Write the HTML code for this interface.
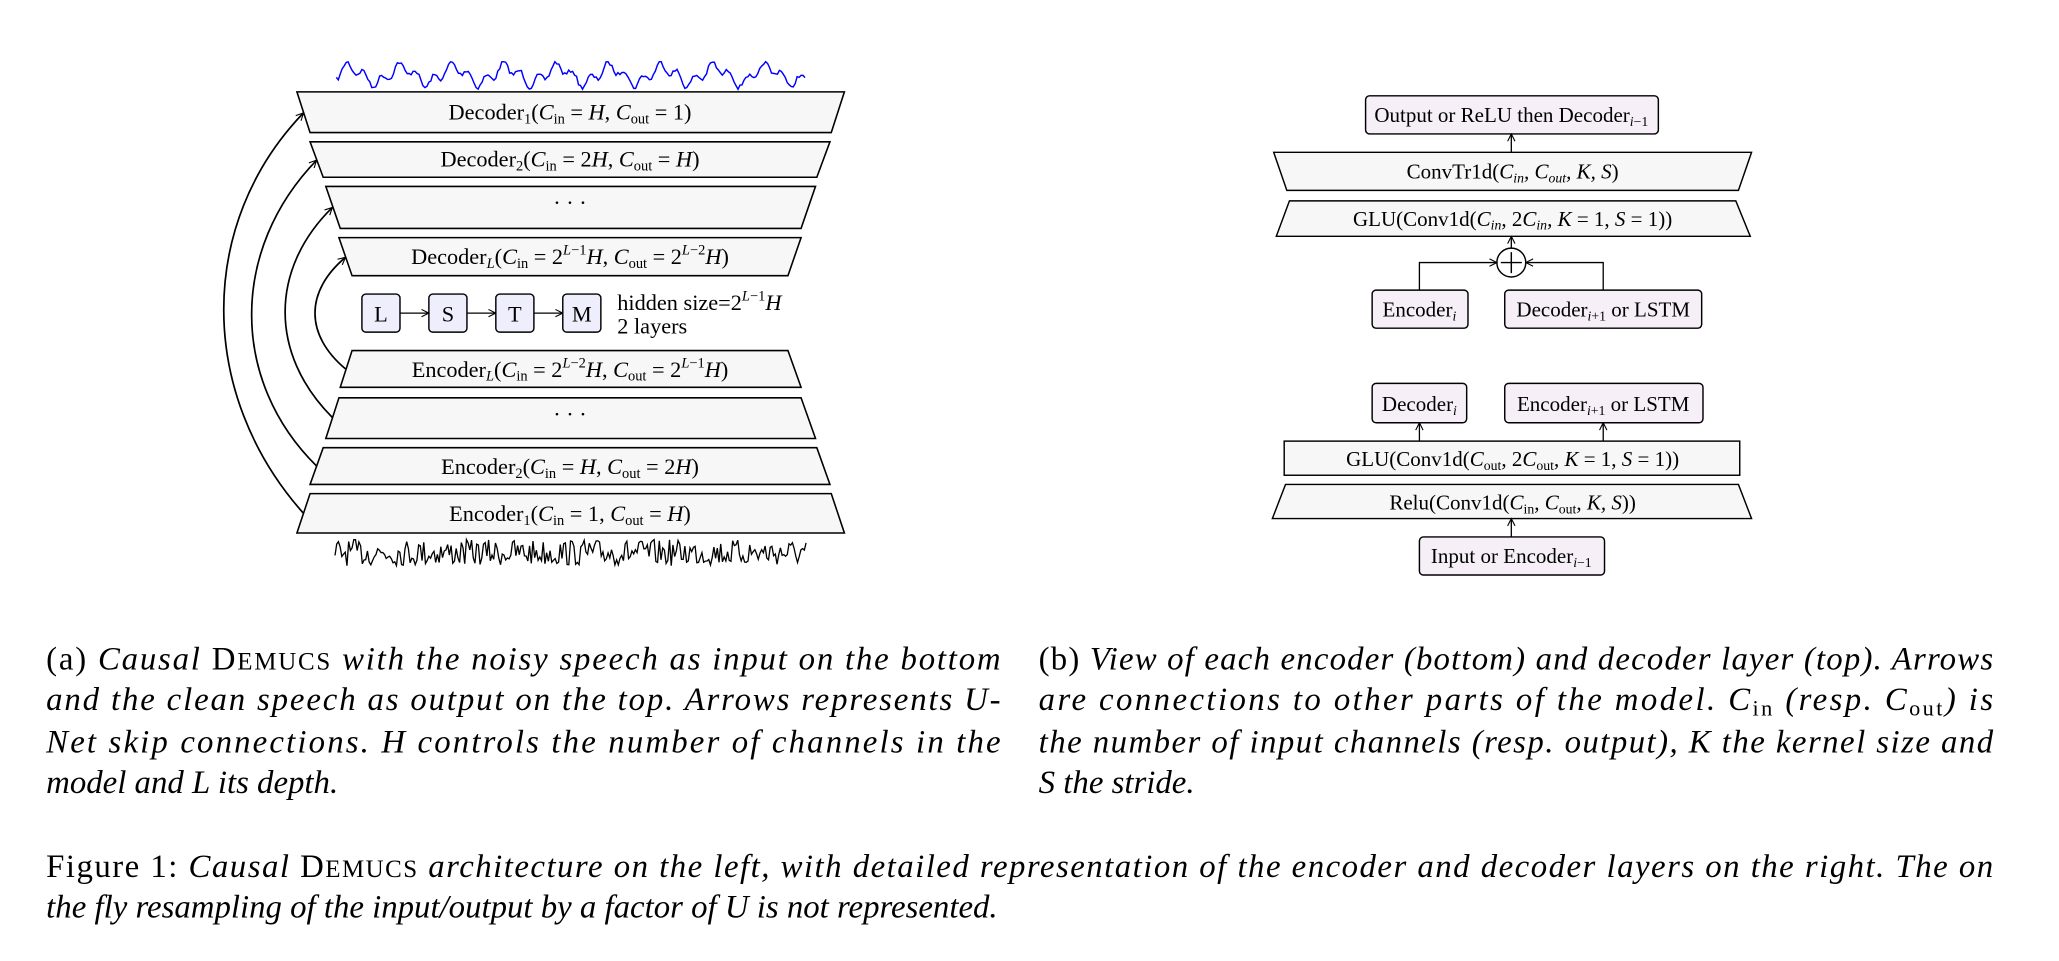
<!DOCTYPE html>
<html><head><meta charset="utf-8"><style>
html,body{margin:0;padding:0;background:#fff;}
svg{display:block;}
text{font-family:"Liberation Serif",serif;fill:#000;}
.d{font-size:17px;}
.r{font-size:16px;}
.c{font-size:25px;font-style:italic;}
</style></head><body>
<svg id="s" width="2059" height="961" viewBox="0 0 1568 732" xmlns="http://www.w3.org/2000/svg">
<defs>
<marker id="ah" viewBox="0 0 10 10" refX="9" refY="5" markerWidth="7" markerHeight="7" orient="auto" markerUnits="userSpaceOnUse">
<path d="M1,1 L9,5 L1,9" fill="none" stroke="#000" stroke-width="1.2"/></marker>
</defs>
<g stroke="#000" stroke-width="1.2" fill="#f7f7f7">
<polygon points="226,70 643,70 633,101 236,101"/>
<polygon points="236,108 632,108 622,135 246,135"/>
<polygon points="248,142 621,142 610,174 259,174"/>
<polygon points="258,181 610,181 600,210 268,210"/>
<polygon points="268,267 600,267 610,295 259,295"/>
<polygon points="258,303 610,303 621,334 248,334"/>
<polygon points="246,341 622,341 632,369 236,369"/>
<polygon points="236,376 633,376 643,406 226,406"/>
</g>
<g class="d" text-anchor="middle">
<text x="434" y="91">Decoder<tspan font-size="11" dy="3">1</tspan><tspan dy="-3">(</tspan><tspan font-style="italic">C</tspan><tspan font-size="11" dy="3">in</tspan><tspan dy="-3"> = </tspan><tspan font-style="italic">H</tspan>, <tspan font-style="italic">C</tspan><tspan font-size="11" dy="3">out</tspan><tspan dy="-3"> = 1)</tspan></text>
<text x="434" y="127">Decoder<tspan font-size="11" dy="3">2</tspan><tspan dy="-3">(</tspan><tspan font-style="italic">C</tspan><tspan font-size="11" dy="3">in</tspan><tspan dy="-3"> = 2</tspan><tspan font-style="italic">H</tspan>, <tspan font-style="italic">C</tspan><tspan font-size="11" dy="3">out</tspan><tspan dy="-3"> = </tspan><tspan font-style="italic">H</tspan>)</text>
<text x="434" y="160">· · ·</text>
<text x="434" y="201">Decoder<tspan font-size="11" dy="3" font-style="italic">L</tspan><tspan dy="-3">(</tspan><tspan font-style="italic">C</tspan><tspan font-size="11" dy="3">in</tspan><tspan dy="-3"> = 2</tspan><tspan font-size="11" dy="-7" font-style="italic">L</tspan><tspan font-size="11">−1</tspan><tspan dy="7" font-style="italic">H</tspan>, <tspan font-style="italic">C</tspan><tspan font-size="11" dy="3">out</tspan><tspan dy="-3"> = 2</tspan><tspan font-size="11" dy="-7" font-style="italic">L</tspan><tspan font-size="11">−2</tspan><tspan dy="7" font-style="italic">H</tspan>)</text>
<text x="434" y="287">Encoder<tspan font-size="11" dy="3" font-style="italic">L</tspan><tspan dy="-3">(</tspan><tspan font-style="italic">C</tspan><tspan font-size="11" dy="3">in</tspan><tspan dy="-3"> = 2</tspan><tspan font-size="11" dy="-7" font-style="italic">L</tspan><tspan font-size="11">−2</tspan><tspan dy="7" font-style="italic">H</tspan>, <tspan font-style="italic">C</tspan><tspan font-size="11" dy="3">out</tspan><tspan dy="-3"> = 2</tspan><tspan font-size="11" dy="-7" font-style="italic">L</tspan><tspan font-size="11">−1</tspan><tspan dy="7" font-style="italic">H</tspan>)</text>
<text x="434" y="321">· · ·</text>
<text x="434" y="361">Encoder<tspan font-size="11" dy="3">2</tspan><tspan dy="-3">(</tspan><tspan font-style="italic">C</tspan><tspan font-size="11" dy="3">in</tspan><tspan dy="-3"> = </tspan><tspan font-style="italic">H</tspan>, <tspan font-style="italic">C</tspan><tspan font-size="11" dy="3">out</tspan><tspan dy="-3"> = 2</tspan><tspan font-style="italic">H</tspan>)</text>
<text x="434" y="397">Encoder<tspan font-size="11" dy="3">1</tspan><tspan dy="-3">(</tspan><tspan font-style="italic">C</tspan><tspan font-size="11" dy="3">in</tspan><tspan dy="-3"> = 1, </tspan><tspan font-style="italic">C</tspan><tspan font-size="11" dy="3">out</tspan><tspan dy="-3"> = </tspan><tspan font-style="italic">H</tspan>)</text>
</g>
<g fill="none" stroke="#000" stroke-width="1.3" marker-end="url(#ah)">
<path d="M231,391 C150,300 150,170 231,86"/>
<path d="M241,355 C175,290 175,190 241,122"/>
<path d="M253,318 C205,270 205,205 253,158"/>
<path d="M263,281 C232,255 232,222 263,196"/>
</g>
<g stroke="#000" stroke-width="1.1" fill="#eeeefc">
<rect x="275.5" y="224" width="29" height="29" rx="3"/>
<rect x="326.5" y="224" width="29" height="29" rx="3"/>
<rect x="377.5" y="224" width="29" height="29" rx="3"/>
<rect x="428.5" y="224" width="29" height="29" rx="3"/>
</g>
<g stroke="#000" stroke-width="1" marker-end="url(#ah)">
<line x1="304.5" y1="238.5" x2="326.5" y2="238.5"/>
<line x1="355.5" y1="238.5" x2="377.5" y2="238.5"/>
<line x1="406.5" y1="238.5" x2="428.5" y2="238.5"/>
</g>
<g class="d" text-anchor="middle">
<text x="290" y="245">L</text><text x="341" y="245">S</text><text x="392" y="245">T</text><text x="443" y="245">M</text>
</g>
<text class="d" x="470" y="236">hidden size=2<tspan font-size="11" dy="-7" font-style="italic">L</tspan><tspan font-size="11">−1</tspan><tspan dy="7" font-style="italic">H</tspan></text>
<text class="d" x="470" y="254">2 layers</text>
<path id="wt" fill="none" stroke="#0000ff" stroke-width="1.1"/>
<path id="wb" fill="none" stroke="#000" stroke-width="1"/>

<g stroke="#000" stroke-width="1.1" fill="#f7f7f7">
<polygon points="970,116 1334,116 1324,145 980,145"/>
<polygon points="982,153 1322,153 1333,180 972,180"/>
<rect x="978" y="336" width="347" height="26"/>
<polygon points="979,369 1324,369 1334,395 969,395"/>
</g>
<g stroke="#000" stroke-width="1.1" fill="#f6eff8">
<rect x="1040" y="73" width="223" height="29" rx="3"/>
<rect x="1045" y="221" width="73" height="29" rx="3"/>
<rect x="1146" y="221" width="150" height="29" rx="3"/>
<rect x="1045" y="292" width="72" height="30" rx="3"/>
<rect x="1146" y="292" width="151" height="30" rx="3"/>
<rect x="1081" y="409" width="141" height="29" rx="3"/>
</g>
<circle cx="1151" cy="200" r="11" fill="#fff" stroke="#000" stroke-width="1.1"/>
<path d="M1151,192 V208 M1143,200 H1159" stroke="#000" stroke-width="1.1"/>
<g fill="none" stroke="#000" stroke-width="1" marker-end="url(#ah)">
<line x1="1151" y1="116" x2="1151" y2="102"/>
<line x1="1151" y1="189" x2="1151" y2="180"/>
<path d="M1081,221 V200 H1140"/>
<path d="M1221,221 V200 H1162"/>
<line x1="1081" y1="336" x2="1081" y2="322"/>
<line x1="1221" y1="336" x2="1221" y2="322"/>
<line x1="1151" y1="409" x2="1151" y2="395"/>
</g>
<g class="r" text-anchor="middle">
<text x="1151" y="93">Output or ReLU then Decoder<tspan font-size="10.5" dy="3" font-style="italic">i</tspan><tspan font-size="10.5">−1</tspan></text>
<text x="1152" y="136">ConvTr1d(<tspan font-style="italic">C<tspan font-size="10.5" dy="3">in</tspan><tspan dy="-3">, C</tspan><tspan font-size="10.5" dy="3">out</tspan><tspan dy="-3">, K, S</tspan></tspan>)</text>
<text x="1152" y="172">GLU(Conv1d(<tspan font-style="italic">C<tspan font-size="10.5" dy="3">in</tspan></tspan><tspan dy="-3">, 2</tspan><tspan font-style="italic">C<tspan font-size="10.5" dy="3">in</tspan><tspan dy="-3">, K</tspan></tspan> = 1, <tspan font-style="italic">S</tspan> = 1))</text>
<text x="1081" y="241">Encoder<tspan font-size="10.5" dy="3" font-style="italic">i</tspan></text>
<text x="1221" y="241">Decoder<tspan font-size="10.5" dy="3" font-style="italic">i</tspan><tspan font-size="10.5">+1</tspan><tspan dy="-3"> or LSTM</tspan></text>
<text x="1081" y="313">Decoder<tspan font-size="10.5" dy="3" font-style="italic">i</tspan></text>
<text x="1221" y="313">Encoder<tspan font-size="10.5" dy="3" font-style="italic">i</tspan><tspan font-size="10.5">+1</tspan><tspan dy="-3"> or LSTM</tspan></text>
<text x="1152" y="355">GLU(Conv1d(<tspan font-style="italic">C</tspan><tspan font-size="10.5" dy="3">out</tspan><tspan dy="-3">, 2</tspan><tspan font-style="italic">C</tspan><tspan font-size="10.5" dy="3">out</tspan><tspan dy="-3">, </tspan><tspan font-style="italic">K</tspan> = 1, <tspan font-style="italic">S</tspan> = 1))</text>
<text x="1152" y="388">Relu(Conv1d(<tspan font-style="italic">C</tspan><tspan font-size="10.5" dy="3">in</tspan><tspan dy="-3">, </tspan><tspan font-style="italic">C</tspan><tspan font-size="10.5" dy="3">out</tspan><tspan dy="-3">, </tspan><tspan font-style="italic">K, S</tspan>))</text>
<text x="1151" y="429">Input or Encoder<tspan font-size="10.5" dy="3" font-style="italic">i</tspan><tspan font-size="10.5">−1</tspan></text>
</g>

<text class="c" x="35" y="510" textLength="727" lengthAdjust="spacing"><tspan font-style="normal">(a) </tspan>Causal <tspan font-style="normal">D<tspan font-size="19">EMUCS</tspan></tspan> with the noisy speech as input on the bottom</text>
<text class="c" x="35" y="541" textLength="727" lengthAdjust="spacing">and the clean speech as output on the top. Arrows represents U-</text>
<text class="c" x="35" y="573" textLength="727" lengthAdjust="spacing">Net skip connections.  H controls the number of channels in the</text>
<text class="c" x="35" y="604">model and L its depth.</text>
<text class="c" x="791" y="510" textLength="727" lengthAdjust="spacing"><tspan font-style="normal">(b) </tspan>View of each encoder (bottom) and decoder layer (top). Arrows</text>
<text class="c" x="791" y="541" textLength="727" lengthAdjust="spacing">are connections to other parts of the model. C<tspan font-size="17" font-style="normal" dy="4">in</tspan><tspan dy="-4"> (resp. C</tspan><tspan font-size="17" font-style="normal" dy="4">out</tspan><tspan dy="-4">) is</tspan></text>
<text class="c" x="791" y="573" textLength="727" lengthAdjust="spacing">the number of input channels (resp. output), K the kernel size and</text>
<text class="c" x="791" y="604">S the stride.</text>
<text class="c" x="35" y="668" textLength="1483" lengthAdjust="spacing"><tspan font-style="normal">Figure 1: </tspan>Causal <tspan font-style="normal">D<tspan font-size="19">EMUCS</tspan></tspan> architecture on the left, with detailed representation of the encoder and decoder layers on the right. The on</text>
<text class="c" x="35" y="699">the fly resampling of the input/output by a factor of U is not represented.</text>
</svg>
<script>
(function(){
var seed=7;function r(){seed=(seed*16807)%2147483647;return seed/2147483647;}
var p="";for(var x=256;x<=614;x+=1.5){var t=(x-256)/358*Math.PI*2*9;var y=57+ -6*Math.sin(t)+4*Math.sin(3*t+1)+ (r()-0.5)*3;y=Math.max(47,Math.min(68,y));p+=(p?"L":"M")+x.toFixed(1)+","+y.toFixed(1);}
document.getElementById("wt").setAttribute("d",p);
var q="";for(var x=255;x<=614;x+=1.3){var y=421+(r()-0.5)*20;q+=(q?"L":"M")+x.toFixed(1)+","+y.toFixed(1);}
document.getElementById("wb").setAttribute("d",q);
})();
</script>
</body></html>
